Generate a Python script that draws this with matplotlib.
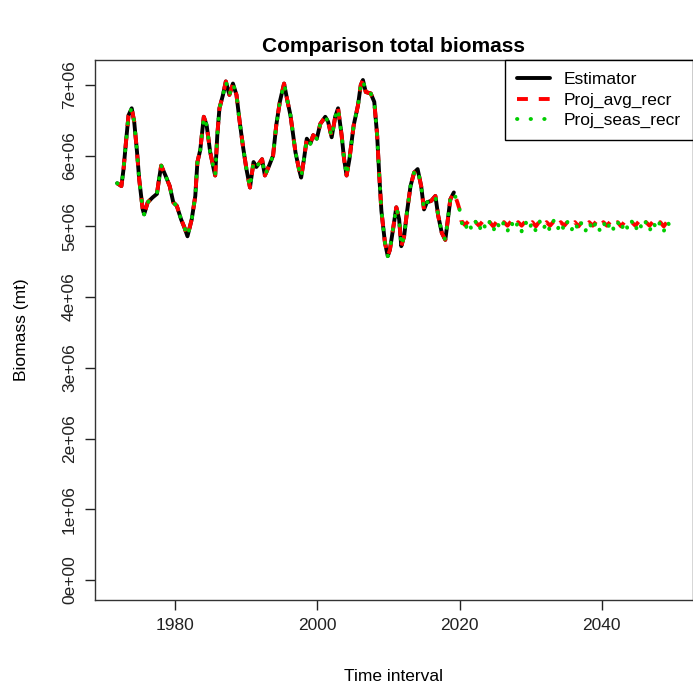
import matplotlib
matplotlib.use("Agg")
import matplotlib.pyplot as plt
import numpy as np

plt.rcParams['font.family'] = ['Liberation Sans', 'DejaVu Sans']

# historical biomass (million t), shared by all three runs
hist_years = [1971.8, 1972.4, 1972.7, 1973.05, 1973.4, 1973.85, 1974.2, 1974.6, 1974.9, 1975.4,
              1975.6, 1976.1, 1976.8, 1977.4, 1977.7, 1978.0, 1978.6, 1979.2, 1979.7, 1980.2,
              1980.8, 1981.25, 1981.7, 1982.3, 1982.8, 1983.1, 1983.5, 1984.0, 1984.4, 1984.9,
              1985.4, 1985.6, 1985.9, 1986.2, 1986.7, 1987.1, 1987.6, 1988.1, 1988.6, 1989.0,
              1989.5, 1990.0, 1990.5, 1991.0, 1991.4, 1991.7, 1992.2, 1992.6, 1993.2, 1993.75,
              1994.2, 1994.7, 1995.3, 1995.7, 1996.2, 1996.5, 1996.9, 1997.4, 1997.7, 1998.1,
              1998.5, 1999.0, 1999.4, 1999.9, 2000.4, 2001.1, 2001.5, 2002.0, 2002.5, 2002.9,
              2003.4, 2003.75, 2004.1, 2004.5, 2005.1, 2005.7, 2006.1, 2006.4, 2006.8, 2007.5,
              2008.0, 2008.4, 2008.7, 2009.0, 2009.5, 2009.9, 2010.2, 2010.7, 2011.1, 2011.5,
              2011.8, 2012.2, 2012.6, 2013.1, 2013.6, 2014.1, 2014.6, 2015.0, 2015.4, 2016.0,
              2016.6, 2017.0, 2017.5, 2018.0, 2018.3, 2018.7, 2019.2]
hist_vals = [5.61, 5.57, 5.81, 6.20, 6.57, 6.67, 6.48, 6.05, 5.67, 5.24,
             5.17, 5.34, 5.41, 5.46, 5.67, 5.86, 5.72, 5.57, 5.34, 5.29,
             5.10, 4.99, 4.86, 5.10, 5.43, 5.91, 6.08, 6.55, 6.43, 6.05,
             5.81, 5.72, 6.29, 6.67, 6.86, 7.05, 6.86, 7.02, 6.86, 6.52,
             6.14, 5.81, 5.55, 5.91, 5.84, 5.88, 5.95, 5.72, 5.86, 6.00,
             6.43, 6.76, 7.02, 6.81, 6.57, 6.35, 6.05, 5.81, 5.69, 5.95,
             6.24, 6.17, 6.29, 6.24, 6.45, 6.55, 6.48, 6.26, 6.55, 6.67,
             6.29, 5.95, 5.72, 5.95, 6.43, 6.71, 7.00, 7.07, 6.90, 6.88,
             6.76, 6.29, 5.72, 5.22, 4.77, 4.58, 4.67, 5.00, 5.27, 5.10,
             4.72, 4.86, 5.20, 5.57, 5.76, 5.81, 5.57, 5.24, 5.34, 5.36,
             5.43, 5.15, 4.91, 4.81, 5.05, 5.38, 5.48]

# projection period
proj_years = [2019.7, 2020.0] + list(np.arange(2020.25, 2049.8, 0.5))
avg_vals = [5.34, 5.24,
            5.08, 5.02, 5.07, 5.00, 5.06, 5.01, 5.07, 5.01, 5.06, 5.00,
            5.07, 5.01, 5.06, 5.01, 5.07, 5.00, 5.06, 5.01, 5.07, 5.01,
            5.06, 5.00, 5.07, 5.01, 5.06, 5.01, 5.07, 5.00, 5.06, 5.01,
            5.07, 5.01, 5.06, 5.00, 5.07, 5.01, 5.06, 5.01, 5.07, 5.00,
            5.06, 5.01, 5.07, 5.01, 5.06, 5.00, 5.07, 5.01, 5.06, 5.01,
            5.07, 5.00, 5.06, 5.01, 5.07, 5.01, 5.06, 5.00, 5.07, 5.05]
seas_vals = [5.34, 5.24,
             5.07, 4.93, 5.08, 4.94, 5.07, 4.93, 5.08, 4.94, 5.07, 4.93,
             5.08, 4.94, 5.07, 4.93, 5.08, 4.94, 5.07, 4.93, 5.08, 4.94,
             5.07, 4.93, 5.08, 4.94, 5.07, 4.93, 5.08, 4.94, 5.07, 4.93,
             5.08, 4.94, 5.07, 4.93, 5.08, 4.94, 5.07, 4.93, 5.08, 4.94,
             5.07, 4.93, 5.08, 4.94, 5.07, 4.93, 5.08, 4.94, 5.07, 4.93,
             5.08, 4.94, 5.07, 4.93, 5.08, 4.94, 5.07, 4.93, 5.08, 4.96]

est_x = np.array(hist_years)
est_y = np.array(hist_vals) * 1e6
avg_x = np.concatenate([hist_years, proj_years])
avg_y = np.concatenate([hist_vals, avg_vals]) * 1e6
seas_x = np.concatenate([hist_years, proj_years])
seas_y = np.concatenate([hist_vals, seas_vals]) * 1e6

fig = plt.figure(figsize=(6.93, 6.88), dpi=100)
ax = fig.add_axes([95 / 693, 88 / 688, 598 / 693, 540 / 688])

lw = 2.8
ax.plot(est_x, est_y, color='black', lw=lw, solid_capstyle='round', label='Estimator')
ax.plot(avg_x, avg_y, color='#FF0000', lw=lw, dashes=(2.8, 2.8), dash_capstyle='butt',
        label='Proj_avg_recr')
ax.plot(seas_x, seas_y, color='#00CD00', lw=lw, dashes=(0.1, 3.4), dash_capstyle='round',
        label='Proj_seas_recr')

# R-style 4% expansion, y from zero
xmin, xmax = min(avg_x.min(), est_x.min()), avg_x.max()
ymax = max(est_y.max(), avg_y.max(), seas_y.max())
xr = xmax - xmin
ax.set_xlim(xmin - 0.04 * xr, xmax + 0.04 * xr)
ax.set_ylim(-0.04 * ymax, 1.04 * ymax)

ax.set_xticks([1980, 2000, 2020, 2040])
yt = np.arange(0, 8) * 1e6
ax.set_yticks(yt)
ax.set_yticklabels(['0e+00', '1e+06', '2e+06', '3e+06', '4e+06', '5e+06', '6e+06', '7e+06'],
                   rotation=90, va='center')
ax.tick_params(axis='both', length=7, width=1, labelsize=12.5, colors='#222222', pad=6)
for s in ax.spines.values():
    s.set_color('#333333')
    s.set_linewidth(1)

ax.set_xlabel('Time interval', fontsize=12.5, labelpad=26)
ax.set_ylabel('Biomass (mt)', fontsize=12.5, labelpad=24)
ax.set_title('Comparison total biomass', fontsize=15, fontweight='bold', pad=6)

leg = ax.legend(loc='upper right', borderaxespad=0, fancybox=False, fontsize=12.5,
                handlelength=1.9, handletextpad=0.8, labelspacing=0.3, borderpad=0.7,
                framealpha=1)
leg.get_frame().set_edgecolor('black')
leg.get_frame().set_linewidth(1)

fig.savefig('out.png', dpi=100)
